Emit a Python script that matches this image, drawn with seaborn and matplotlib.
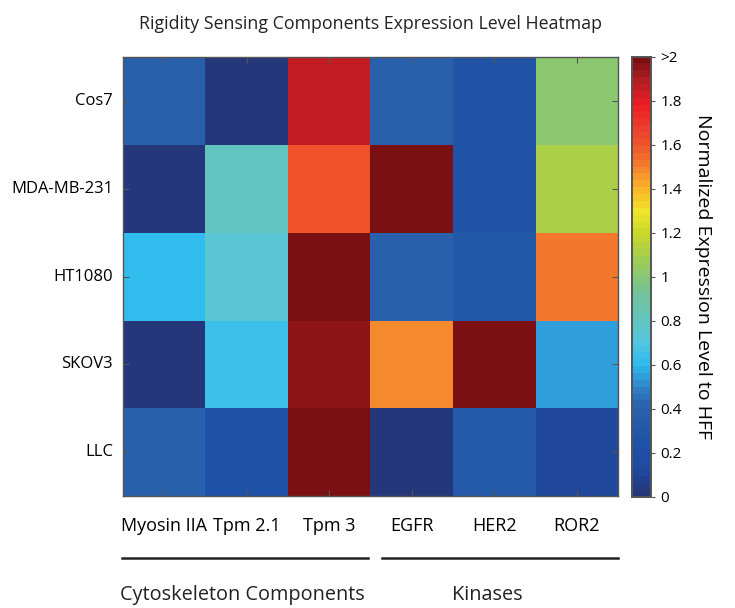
import numpy as np
import pandas as pd
import matplotlib
matplotlib.use("Agg")
import matplotlib.pyplot as plt
from matplotlib.colors import LinearSegmentedColormap, ListedColormap
import seaborn as sns

# data (values > 2 are shown saturated)
cell_lines = ["Cos7", "MDA-MB-231", "HT1080", "SKOV3", "LLC"]
components = ["Myosin IIA", "Tpm 2.1", "Tpm 3", "EGFR", "HER2", "ROR2"]
cos7 = [0.38, 0.02, 1.85, 0.38, 0.25, 1.00]
mda = [0.03, 0.80, 1.62, 2.50, 0.25, 1.12]
ht1080 = [0.62, 0.72, 2.50, 0.38, 0.30, 1.52]
skov3 = [0.03, 0.65, 1.95, 1.47, 2.50, 0.54]
llc = [0.38, 0.22, 2.50, 0.03, 0.32, 0.12]
groups = ["Cytoskeleton Components", "Kinases"]
cbar_ticks = [0, 0.2, 0.4, 0.6, 0.8, 1.0, 1.2, 1.4, 1.6, 1.8, 2.0]
cbar_labels = ["0", "0.2", "0.4", "0.6", "0.8", "1", "1.2", "1.4", "1.6", "1.8", ">2"]

df = pd.DataFrame([cos7, mda, ht1080, skov3, llc], index=cell_lines, columns=components)

# colour map
anchors = [
    (0.00, "#24377a"), (0.05, "#223d88"), (0.10, "#1f4a9e"), (0.20, "#1e4fa5"),
    (0.40, "#2a62ad"), (0.50, "#3088cc"), (0.60, "#2fbdef"), (0.70, "#55c6df"),
    (0.80, "#62c4bd"), (0.90, "#6fc3a0"), (1.00, "#86c677"), (1.10, "#a6ce4c"),
    (1.20, "#c9d82a"), (1.30, "#f0e52a"), (1.40, "#fbb62a"), (1.50, "#f4842e"),
    (1.60, "#ef5a2a"), (1.70, "#ee3a2e"), (1.80, "#ec1c24"), (1.90, "#b51e24"),
    (2.00, "#7a1012"),
]
base = LinearSegmentedColormap.from_list("expr", [(v / 2.0, c) for v, c in anchors])
cmap = ListedColormap(base(np.linspace(0, 1, 64)))

plt.rcParams["font.family"] = ["Open Sans", "DejaVu Sans"]
plt.rcParams["text.color"] = "#222222"

fig = plt.figure(figsize=(7.35, 6.08), dpi=100)
ax = fig.add_axes([0.167, 0.184, 0.674, 0.722])
cax = fig.add_axes([0.860, 0.183, 0.026, 0.724])

sns.heatmap(df, cmap=cmap, vmin=0, vmax=2, ax=ax, cbar_ax=cax,
            cbar_kws={"ticks": cbar_ticks})

ax.set_title("Rigidity Sensing Components Expression Level Heatmap",
             fontsize=12.8, pad=20)
ax.set_xticklabels(components, rotation=0, fontsize=13)
ax.set_yticklabels(cell_lines, rotation=0, fontsize=12)
ax.tick_params(axis="both", direction="in", length=4, color="#555555",
               top=True, right=True, width=0.8)
ax.tick_params(axis="x", pad=15)
ax.tick_params(axis="y", pad=7)
for s in ax.spines.values():
    s.set_visible(True)
    s.set_color("#555555")
    s.set_linewidth(1.0)

cax.set_yticklabels(cbar_labels, fontsize=11)
cax.tick_params(length=3, color="#555555", width=0.8)
cax.set_ylabel("Normalized Expression Level to HFF", rotation=270,
               fontsize=14, labelpad=22)
for s in cax.spines.values():
    s.set_visible(True)
    s.set_color("#555555")
    s.set_linewidth(1.2)

# group brackets below the column labels
tr = ax.get_xaxis_transform()
ax.plot([-0.01, 2.97], [-0.14, -0.14], color="#222222", lw=1.8,
        transform=tr, clip_on=False)
ax.plot([3.14, 6.0], [-0.14, -0.14], color="#222222", lw=1.8,
        transform=tr, clip_on=False)
ax.text(1.45, -0.225, groups[0], transform=tr, ha="center", va="center", fontsize=14.3)
ax.text(4.42, -0.225, groups[1], transform=tr, ha="center", va="center", fontsize=14.3)

fig.savefig("out.png", dpi=100)
